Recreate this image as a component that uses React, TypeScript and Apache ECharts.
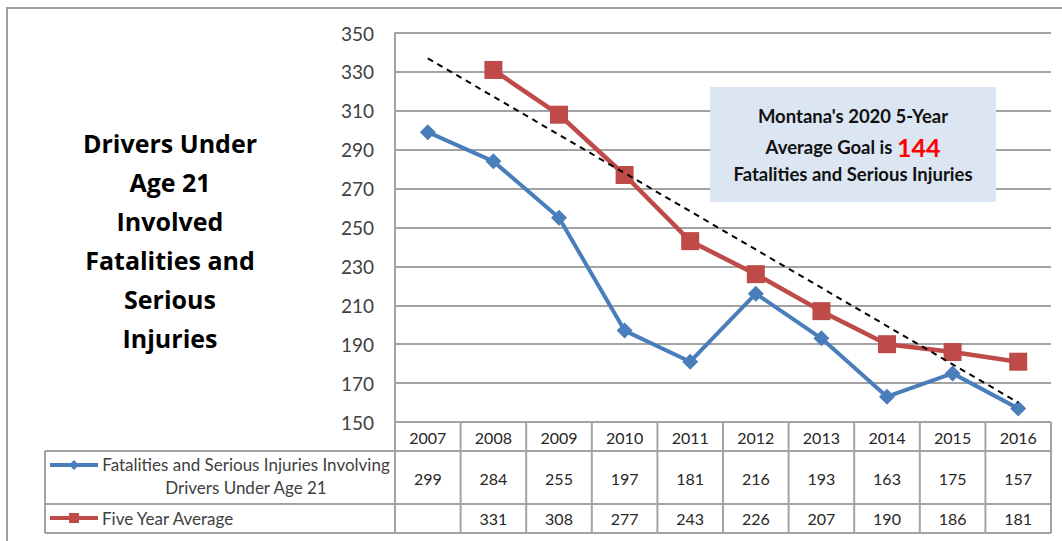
import React, { useEffect, useRef } from "react";
import * as echarts from "echarts";

const years = ["2007", "2008", "2009", "2010", "2011", "2012", "2013", "2014", "2015", "2016"];
const under21 = [299, 284, 255, 197, 181, 216, 193, 163, 175, 157];
const fiveYearAvg: (number | null)[] = [null, 331, 308, 277, 243, 226, 207, 190, 186, 181];
const trend: (number | null)[] = [337, null, null, null, null, null, null, null, null, 160];
const yTicks = { min: 150, max: 350, interval: 20 };
const seriesNames = ["Fatalities and Serious Injuries Involving\nDrivers Under Age 21", "Five Year Average"];
const titleLines = ["Drivers Under", "Age 21", "Involved", "Fatalities and", "Serious", "Injuries"];
const goalLines = ["Montana's 2020 5-Year", "Average Goal is ", "144", "Fatalities and Serious Injuries"];

const W = 1062;
const H = 541;
const GRID_LEFT = 395;
const GRID_RIGHT = 1051;
const GRID_TOP = 33;
const GRID_BOTTOM = 422;
const ROW_Y = [422, 451, 504, 533];
const LEGEND_LEFT = 45;
const BLUE = "#4a7ebb";
const RED = "#be4b48";
const LINE = "#a3a3a3";
const FONT = "Lato, 'Open Sans', sans-serif";
const TITLE_FONT = "'Open Sans', Lato, sans-serif";

export default function App() {
  const ref = useRef<HTMLDivElement>(null);
  useEffect(() => {
    if (!ref.current) return;
    const chart = echarts.init(ref.current, undefined, { renderer: "svg" });
    const colW = (GRID_RIGHT - GRID_LEFT) / years.length;
    const g: any[] = [];
    // outer border
    g.push({ type: "rect", shape: { x: 7, y: 8, width: W, height: H }, style: { fill: "none", stroke: "#a0a0a0", lineWidth: 2 } });
    // title
    g.push({
      type: "text",
      x: 170,
      y: 240,
      style: {
        text: titleLines.join("\n"),
        align: "center",
        verticalAlign: "middle",
        fontFamily: TITLE_FONT,
        fontWeight: "bold",
        fontSize: 25,
        lineHeight: 39,
        fill: "#000",
      },
    });
    // goal box
    g.push({ type: "rect", shape: { x: 710, y: 87, width: 286, height: 115 }, style: { fill: "#dce6f2" }, z: 10 });
    const goalStyle = { fontFamily: FONT, fontWeight: "bold", fontSize: 18.5, fill: "#111" };
    g.push({
      type: "text", x: 853, y: 116, z: 11,
      style: { text: goalLines[0], align: "center", verticalAlign: "middle", ...goalStyle },
    });
    g.push({
      type: "text", x: 853, y: 147, z: 11,
      style: {
        text: "{a|" + goalLines[1] + "}{r|" + goalLines[2] + "}",
        align: "center", verticalAlign: "middle",
        rich: {
          a: { fontFamily: FONT, fontWeight: "bold", fontSize: 18.5, fill: "#111", color: "#111" },
          r: { fontFamily: FONT, fontWeight: "bold", fontSize: 25, fill: "#ff0000", color: "#ff0000" },
        },
      },
    });
    g.push({
      type: "text", x: 853, y: 174, z: 11,
      style: { text: goalLines[3], align: "center", verticalAlign: "middle", ...goalStyle },
    });
    // table lines
    const hl = (x1: number, x2: number, y: number) =>
      g.push({ type: "line", shape: { x1, y1: y, x2, y2: y }, style: { stroke: LINE, lineWidth: 2 } });
    const vl = (x: number, y1: number, y2: number) =>
      g.push({ type: "line", shape: { x1: x, y1, x2: x, y2 }, style: { stroke: LINE, lineWidth: 2 } });
    hl(GRID_LEFT, GRID_RIGHT, ROW_Y[0]);
    hl(LEGEND_LEFT, GRID_RIGHT, ROW_Y[1]);
    hl(LEGEND_LEFT, GRID_RIGHT, ROW_Y[2]);
    hl(LEGEND_LEFT, GRID_RIGHT, ROW_Y[3]);
    vl(LEGEND_LEFT, ROW_Y[1], ROW_Y[3]);
    vl(GRID_LEFT, GRID_BOTTOM, ROW_Y[3]);
    for (let i = 1; i <= years.length; i++) vl(GRID_LEFT + colW * i, ROW_Y[0], ROW_Y[3]);
    const cellText = (text: string, x: number, y: number) =>
      g.push({
        type: "text", x, y,
        style: { text, align: "center", verticalAlign: "middle", fontFamily: FONT, fontSize: 16, fill: "#262626" },
      });
    years.forEach((yr, i) => {
      const cx = GRID_LEFT + colW * (i + 0.5);
      cellText(yr, cx, 437);
      cellText(String(under21[i]), cx, 478);
      if (fiveYearAvg[i] != null) cellText(String(fiveYearAvg[i]), cx, 518);
    });
    // legend keys
    g.push({ type: "line", shape: { x1: 50, y1: 465, x2: 98, y2: 465 }, style: { stroke: BLUE, lineWidth: 4 } });
    g.push({ type: "polygon", shape: { points: [[74, 460], [79, 465], [74, 470], [69, 465]] }, style: { fill: BLUE } });
    g.push({ type: "line", shape: { x1: 50, y1: 518, x2: 98, y2: 518 }, style: { stroke: RED, lineWidth: 4 } });
    g.push({ type: "rect", shape: { x: 69, y: 513, width: 10, height: 10 }, style: { fill: RED } });
    g.push({
      type: "text", x: 246, y: 476,
      style: { text: seriesNames[0], align: "center", verticalAlign: "middle", fontFamily: FONT, fontSize: 17, lineHeight: 23, fill: "#404040" },
    });
    g.push({
      type: "text", x: 102, y: 518,
      style: { text: seriesNames[1], align: "left", verticalAlign: "middle", fontFamily: FONT, fontSize: 17, fill: "#404040" },
    });

    chart.setOption({
      animation: false,
      backgroundColor: "#fff",
      grid: { left: GRID_LEFT, right: W - GRID_RIGHT, top: GRID_TOP, bottom: H - GRID_BOTTOM, containLabel: false },
      xAxis: {
        type: "category",
        data: years,
        boundaryGap: true,
        axisLine: { show: false },
        axisTick: { show: false },
        axisLabel: { show: false },
        splitLine: { show: false },
      },
      yAxis: {
        type: "value",
        min: yTicks.min,
        max: yTicks.max,
        interval: yTicks.interval,
        axisLine: { show: true, lineStyle: { color: LINE, width: 2 } },
        axisTick: { show: false },
        axisLabel: { fontFamily: FONT, fontSize: 19, color: "#404040", margin: 21 },
        splitLine: { show: true, lineStyle: { color: LINE, width: 2 } },
      },
      series: [
        {
          name: "Fatalities and Serious Injuries Involving Drivers Under Age 21",
          type: "line",
          data: under21,
          symbol: "diamond",
          symbolSize: 16,
          lineStyle: { color: BLUE, width: 4 },
          itemStyle: { color: BLUE },
          z: 3,
        },
        {
          name: "Five Year Average",
          type: "line",
          data: fiveYearAvg,
          symbol: "rect",
          symbolSize: 18,
          lineStyle: { color: RED, width: 4.5 },
          itemStyle: { color: RED },
          z: 4,
        },
        {
          name: "Trend",
          type: "line",
          data: trend,
          connectNulls: true,
          symbol: "none",
          lineStyle: { color: "#000", width: 2, type: [6, 5] },
          z: 5,
        },
      ],
      graphic: g,
    });
    return () => chart.dispose();
  }, []);
  return <div ref={ref} style={{ position: "absolute", left: 0, top: 0, width: W, height: H }} />;
}
